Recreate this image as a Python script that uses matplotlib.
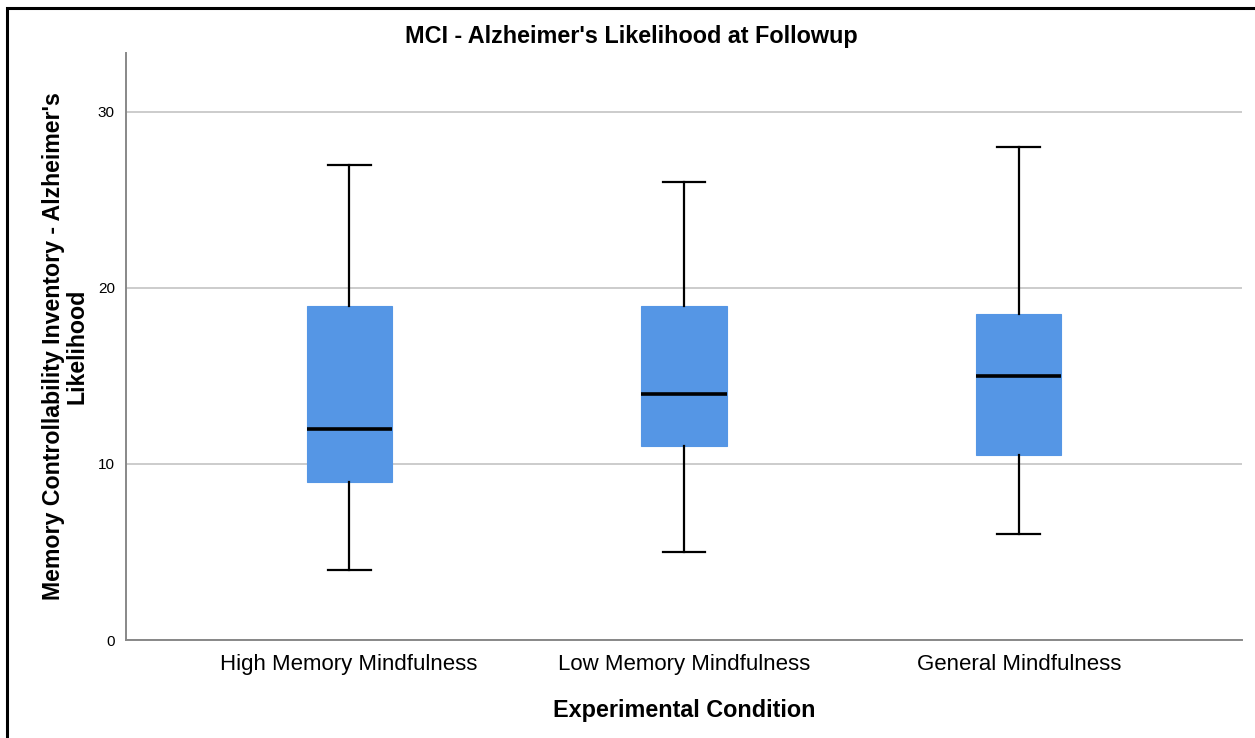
import matplotlib.pyplot as plt
from matplotlib.patches import Rectangle

plt.rcParams['font.family'] = ['Liberation Sans', 'DejaVu Sans']

# box statistics per condition
conditions = ['High Memory Mindfulness', 'Low Memory Mindfulness', 'General Mindfulness']
whisker_low = [4, 5, 6]
q1 = [9, 11, 10.5]
median = [12, 14, 15]
q3 = [19, 19, 18.5]
whisker_high = [27, 26, 28]

stats = []
for i, name in enumerate(conditions):
    stats.append({'label': name, 'whislo': whisker_low[i], 'q1': q1[i], 'med': median[i],
                  'q3': q3[i], 'whishi': whisker_high[i], 'fliers': []})

fig = plt.figure(figsize=(12.55, 7.38), dpi=100)
ax = fig.add_axes([126 / 1255, 98 / 738, (1242 - 126) / 1255, (640 - 53) / 738])

ax.bxp(stats, positions=range(len(conditions)), widths=0.254, showfliers=False,
       patch_artist=True,
       boxprops=dict(facecolor='#5596e5', edgecolor='#5596e5', linewidth=0.8),
       medianprops=dict(color='black', linewidth=2.6, solid_capstyle='butt'),
       whiskerprops=dict(color='black', linewidth=1.6),
       capprops=dict(color='black', linewidth=1.6),
       capwidths=0.128)

ax.set_xlim(-0.666, 2.666)
ax.set_ylim(0, 33.35)
ax.set_yticks([0, 10, 20, 30])
ax.yaxis.grid(True, color='#c4c4c4', linewidth=1.2)
ax.set_axisbelow(True)
ax.tick_params(axis='both', length=0)
ax.tick_params(axis='y', labelsize=11, pad=8)
ax.tick_params(axis='x', labelsize=16, pad=10)
for side in ['top', 'right']:
    ax.spines[side].set_visible(False)
for side in ['left', 'bottom']:
    ax.spines[side].set_color('#888888')
    ax.spines[side].set_linewidth(1.4)

ax.set_xlabel('Experimental Condition', fontsize=16.8, fontweight='bold', labelpad=17)
ax.set_ylabel("Memory Controllability Inventory - Alzheimer's\nLikelihood",
              fontsize=16.7, fontweight='bold', linespacing=1.0, labelpad=7)
fig.text(0.503, 1 - 36 / 738, "MCI - Alzheimer's Likelihood at Followup",
         ha='center', va='center', fontsize=16.8, fontweight='bold')

# outer frame
fig.patches.append(Rectangle((7 / 1255, -0.05), 1.1, 1 - 8 / 738 + 0.05,
                             transform=fig.transFigure, fill=False,
                             edgecolor='black', linewidth=2.2))

fig.savefig('out.png', dpi=100)
